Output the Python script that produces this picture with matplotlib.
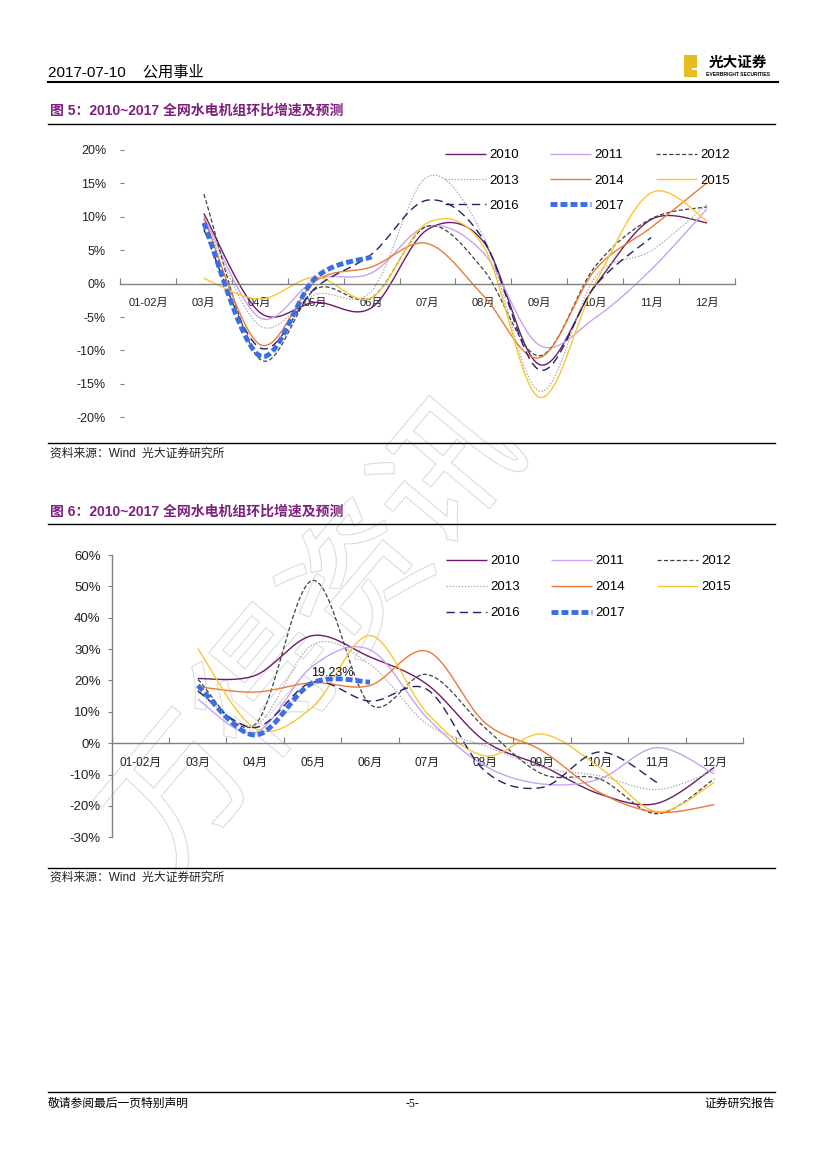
import numpy as np
import matplotlib
matplotlib.use("Agg")
import matplotlib.pyplot as plt
from matplotlib.lines import Line2D
from matplotlib.patches import Rectangle
import matplotlib.patheffects as pe

plt.rcParams['font.family'] = ['Liberation Sans', 'Noto Sans CJK SC', 'DejaVu Sans']
plt.rcParams['lines.scale_dashes'] = False
plt.rcParams['axes.unicode_minus'] = False

# Categories (x axis) shared by both charts.
months = ['01-02月', '03月', '04月', '05月', '06月', '07月', '08月', '09月', '10月', '11月', '12月']
years  = ['2010', '2011', '2012', '2013', '2014', '2015', '2016', '2017']

# Figure 5 values (%), starting at 03月.
top_2010 = [10.5, -4.3, -2.8, -3.6, 8.1, 6.3, -12.1, -0.3, 9.6, 9.1]
top_2011 = [10.1, -5.1, 0.6, 1.6, 8.6, 4.6, -9.2, -5.1, 2.1, 11.2]
top_2012 = [13.4, -11.3, -0.8, -2.1, 8.6, 2.1, -10.8, 2.6, 9.7, 11.5]
top_2013 = [9.6, -6.3, -1.6, -1.1, 16.0, 7.1, -16.1, 1.0, 4.9, 11.9]
top_2014 = [9.9, -9.1, 0.4, 2.5, 6.0, -1.8, -11.1, 2.1, 8.4, 15.1]
top_2015 = [0.8, -2.3, 1.0, -2.1, 9.1, 5.6, -17.0, 0.1, 13.6, 9.4]
top_2016 = [8.1, -9.6, -0.6, 4.4, 12.5, 6.6, -12.9, -0.3, 6.9]
top_2017 = [9.1, -10.8, 0.9, 4.0]

# Figure 6 values (%), starting at 03月.
bot_2010 = [20.6, 21.6, 34.3, 27.5, 18.7, 0.7, -7.2, -16.2, -19.2, -7.7]
bot_2011 = [14.0, 3.4, 24.6, 29.8, 8.0, -7.2, -13.0, -11.4, -1.4, -9.8]
bot_2012 = [20.3, 6.0, 51.9, 12.4, 21.9, 5.0, -9.8, -11.4, -22.5, -11.4]
bot_2013 = [17.0, 5.7, 31.4, 25.1, 6.0, -0.8, -7.7, -10.4, -14.8, -8.8]
bot_2014 = [18.0, 16.3, 19.3, 18.4, 29.3, 6.6, -2.4, -15.7, -22.0, -19.6]
bot_2015 = [30.2, 4.7, 11.5, 34.3, 9.5, -4.0, 2.9, -7.7, -21.8, -12.5]
bot_2016 = [16.6, 5.0, 19.5, 13.4, 17.1, -8.8, -14.1, -2.8, -12.5]
bot_2017 = [18.4, 2.6, 19.23, 19.5]
bot_label = "19.23%"

top_data = dict(zip(years, [top_2010, top_2011, top_2012, top_2013, top_2014, top_2015, top_2016, top_2017]))
bot_data = dict(zip(years, [bot_2010, bot_2011, bot_2012, bot_2013, bot_2014, bot_2015, bot_2016, bot_2017]))

# Line styles per year.
styles = {
  '2010': dict(color='#6A1B6A', lw=1.0, ls='-'),
  '2011': dict(color='#C9A3F0', lw=1.0, ls='-'),
  '2012': dict(color='#404040', lw=0.9, ls=(0, (3, 1.6))),
  '2013': dict(color='#A8A8A8', lw=0.9, ls=(0, (1, 1.2))),
  '2014': dict(color='#EC7A32', lw=1.0, ls='-'),
  '2015': dict(color='#F8C832', lw=1.0, ls='-'),
  '2016': dict(color='#22226A', lw=1.0, ls=(0, (6, 3.5))),
  '2017': dict(color='#3A6DE8', lw=3.5, ls=(0, (5, 2.2))),
}
legend_order = ['2010', '2013', '2016', '2011', '2014', '2017', '2012', '2015']

W, H = 827, 1169

def rect(x0, y0, x1, y1):
  return [x0/W, 1 - y1/H, (x1-x0)/W, (y1-y0)/H]

def hline(fig, x0, x1, y, lw=1.0, color='black'):
  fig.add_artist(Line2D([x0/W, x1/W], [1-y/H, 1-y/H], transform=fig.transFigure, lw=lw, color=color))

def smooth(xs, ys, n=24):
  # Excel-like smoothed line (Catmull-Rom as cubic Bezier).
  xs = np.asarray(xs, float)
  ys = np.asarray(ys, float)
  P = np.column_stack([xs, ys])
  t = np.linspace(0, 1, n)[1:, None]
  out = [P[0]]
  for i in range(len(P)-1):
    p0 = P[max(i-1, 0)]; p1 = P[i]; p2 = P[i+1]; p3 = P[min(i+2, len(P)-1)]
    c1 = p1 + (p2 - p0)/6
    c2 = p2 - (p3 - p1)/6
    seg = (1-t)**3*p1 + 3*(1-t)**2*t*c1 + 3*(1-t)*t**2*c2 + t**3*p2
    out.extend(seg)
  out = np.array(out)
  return out[:, 0], out[:, 1]

def draw_chart(ax, data, ylim, ystep, yaxis_line, leg_anchor, leg_fs, tick_fs, leg_space):
  handles = {}
  for y in years:
    vals = data[y]
    xs = np.arange(1, 1+len(vals))
    sx, sy = smooth(xs, vals)
    st = styles[y]
    zo = 3 if y == '2017' else 2
    handles[y], = ax.plot(sx, sy, color=st['color'], lw=st['lw'], ls=st['ls'], zorder=zo,
                          solid_capstyle='butt', dash_capstyle='butt', label=y)
  ax.set_xlim(-0.5, len(months)-0.5)
  ax.set_ylim(*ylim)
  ax.set_facecolor('none')
  for s in ['top', 'right']:
    ax.spines[s].set_visible(False)
  ax.spines['bottom'].set_position(('data', 0))
  ax.spines['bottom'].set_color('#7F7F7F')
  ax.spines['bottom'].set_linewidth(1.0)
  ax.spines['left'].set_visible(yaxis_line)
  ax.spines['left'].set_color('#7F7F7F')
  ax.spines['left'].set_linewidth(1.0)
  ax.set_xticks(np.arange(len(months)))
  ax.set_xticklabels(months, fontsize=tick_fs-1, color='#222222')
  ax.set_xticks(np.arange(-0.5, len(months)), minor=True)
  ax.tick_params(axis='x', which='major', length=0, pad=10)
  ax.tick_params(axis='x', which='minor', length=4, direction='in', color='#7F7F7F', width=0.8)
  yt = np.arange(ylim[0], ylim[1]+0.1, ystep)
  ax.set_yticks(yt)
  ax.set_yticklabels([f"{int(v)}%" for v in yt], fontsize=tick_fs, color='#222222')
  if yaxis_line:
    ax.tick_params(axis='y', length=3, direction='out', color='#7F7F7F', width=0.8, pad=5)
  else:
    ax.tick_params(axis='y', length=3, direction='in', color='#7F7F7F', width=0.8, pad=10)
  ax.legend([handles[y] for y in legend_order], legend_order, ncol=3, frameon=False,
            loc='upper left', bbox_to_anchor=(leg_anchor[0]/W, 1-leg_anchor[1]/H),
            bbox_transform=ax.figure.transFigure, borderpad=0, borderaxespad=0,
            handlelength=3.1, handletextpad=0.25, columnspacing=2.4, labelspacing=leg_space,
            fontsize=leg_fs)
  return handles

fig = plt.figure(figsize=(W/100, H/100), dpi=100)

# Watermark.
fig.text(0.385, 0.455, '万得资讯', fontsize=100, rotation=50, ha='center', va='center',
         color='white', zorder=0, family=['Noto Sans CJK SC'],
         path_effects=[pe.Stroke(linewidth=1.5, foreground='#DADADA'), pe.Normal()])

# Header.
fig.text(48/W, 1-72/H, '2017-07-10    公用事业', fontsize=11, va='center', ha='left')
hline(fig, 48, 778, 82, lw=1.5)
fig.add_artist(Rectangle((684/W, 1-77/H), 13/W, 22/H, transform=fig.transFigure,
                         facecolor='#E6BD1E', edgecolor='none'))
fig.add_artist(Rectangle((692/W, 1-70/H), 5/W, 2/H, transform=fig.transFigure,
                         facecolor='white', edgecolor='none'))
fig.text(738/W, 1-62/H, '光大证券', fontsize=10.5, weight='bold', ha='center', va='center',
         family=['Noto Sans CJK SC'])
fig.text(738/W, 1-74/H, 'EVERBRIGHT SECURITIES', fontsize=3.6, weight='bold', ha='center', va='center')

# Figure 5 block.
title_color = '#7E1F7E'
fig.text(50/W, 1-111/H, '图 5：2010~2017 全网水电机组环比增速及预测', fontsize=10, weight='bold',
         color=title_color, va='center', ha='left')
hline(fig, 48, 775, 124)
hline(fig, 48, 775, 443)
fig.text(50/W, 1-454/H, '资料来源：Wind  光大证券研究所', fontsize=8.5, va='center', ha='left', color='#222222')

ax1 = fig.add_axes(rect(120, 150, 735, 417.3), zorder=1)
draw_chart(ax1, top_data, (-20, 20), 5, False, (445, 149), 9.5, 9, 1.0)

# Figure 6 block.
fig.text(50/W, 1-512/H, '图 6：2010~2017 全网水电机组环比增速及预测', fontsize=10, weight='bold',
         color=title_color, va='center', ha='left')
hline(fig, 48, 775, 524)
hline(fig, 48, 775, 868)
fig.text(50/W, 1-878/H, '资料来源：Wind  光大证券研究所', fontsize=8.5, va='center', ha='left', color='#222222')

ax2 = fig.add_axes(rect(111.7, 555, 743, 837.3), zorder=1)
draw_chart(ax2, bot_data, (-30, 60), 10, True, (446, 555), 9.5, 9.5, 1.05)
ax2.text(3.35, 22.5, bot_label, fontsize=9, ha='center', va='center', color='#111111', zorder=4)

# Footer.
hline(fig, 48, 775, 1092)
fig.text(48/W, 1-1104/H, '敬请参阅最后一页特别声明', fontsize=8.5, va='center', ha='left')
fig.text(412/W, 1-1104/H, '-5-', fontsize=8.5, va='center', ha='center', family=['Liberation Serif'])
fig.text(775/W, 1-1104/H, '证券研究报告', fontsize=8.5, va='center', ha='right')

fig.savefig('out.png', dpi=100)
